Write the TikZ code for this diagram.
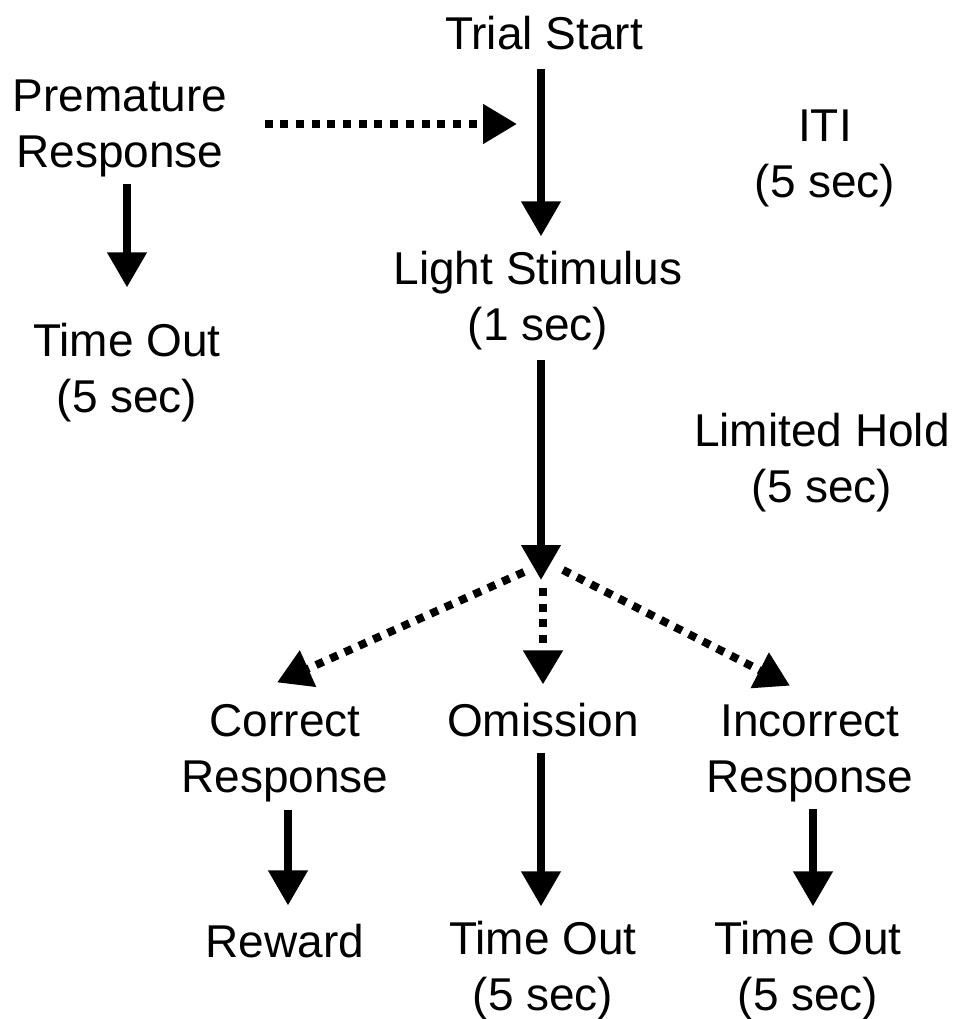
\documentclass[tikz,border=0pt]{standalone}
\usepackage{fontspec}
\setmainfont{Liberation Sans}
\usetikzlibrary{arrows.meta,calc}
\begin{document}
\begin{tikzpicture}[x=1pt,y=-1pt,
  lbl/.style={inner sep=0pt, align=center, font=\fontsize{46}{56}\selectfont},
  solidarr/.style={line width=7.5pt, -{Triangle[width=38pt,length=35pt]}},
  dotarr/.style={line width=8pt, dash pattern=on 8pt off 7.7pt, -{Triangle[width=38pt,length=34pt]}}]
\useasboundingbox (0,0) rectangle (955,1019);
\node[lbl] (ts) at (544,33.5) {Trial Start};
\node[lbl] (pr) at (120,128.5) {Premature\\Response};
\node[lbl] (iti) at (825,158.5) {ITI\\(5 sec)};
\node[lbl] (ls) at (538,301) {Light Stimulus\\(1 sec)};
\node[lbl] (to1) at (127,373) {Time Out\\(5 sec)};
\node[lbl] (lh) at (822,463) {Limited Hold\\(5 sec)};
\node[lbl] (cr) at (285,753.5) {Correct\\Response};
\node[lbl] (om) at (543,720.5) {Omission};
\node[lbl] (ir) at (810,753.5) {Incorrect\\Response};
\node[lbl] (rw) at (285,941.5) {Reward};
\node[lbl] (to2) at (543,971) {Time Out\\(5 sec)};
\node[lbl] (to3) at (808,971) {Time Out\\(5 sec)};
% free ends
\coordinate (hub) at (541,580);
\coordinate (prtip) at (517,124);
% solid arrows
\draw[solidarr] ($(ts.south)+(-3,18)$) -- ($(ls.north)+(3,-15)$);
\draw[solidarr] ($(ls.south)+(3,9)$) -- (hub);
\draw[solidarr] ($(pr.south)+(7,7)$) -- ($(to1.north)+(0,-36)$);
\draw[solidarr] ($(cr.south)+(3,7)$) -- ($(rw.north)+(3,-19)$);
\draw[solidarr] ($(om.south)+(-2,15)$) -- ($(to2.north)+(-2,-15)$);
\draw[solidarr] ($(ir.south)+(3,7)$) -- ($(to3.north)+(5,-15)$);
% dotted arrows
\draw[dotarr] ($(pr.east)+(37,-4.5)$) -- (prtip);
\draw[dotarr] ($(hub)+(-17,-8)$) -- ($(cr.north)+(-8,-22)$);
\draw[dotarr] ($(hub)+(2,8)$) -- ($(om.north)+(0,-19)$);
\draw[dotarr] ($(hub)+(22,-10)$) -- ($(ir.north)+(-20,-19)$);
\end{tikzpicture}
\end{document}
